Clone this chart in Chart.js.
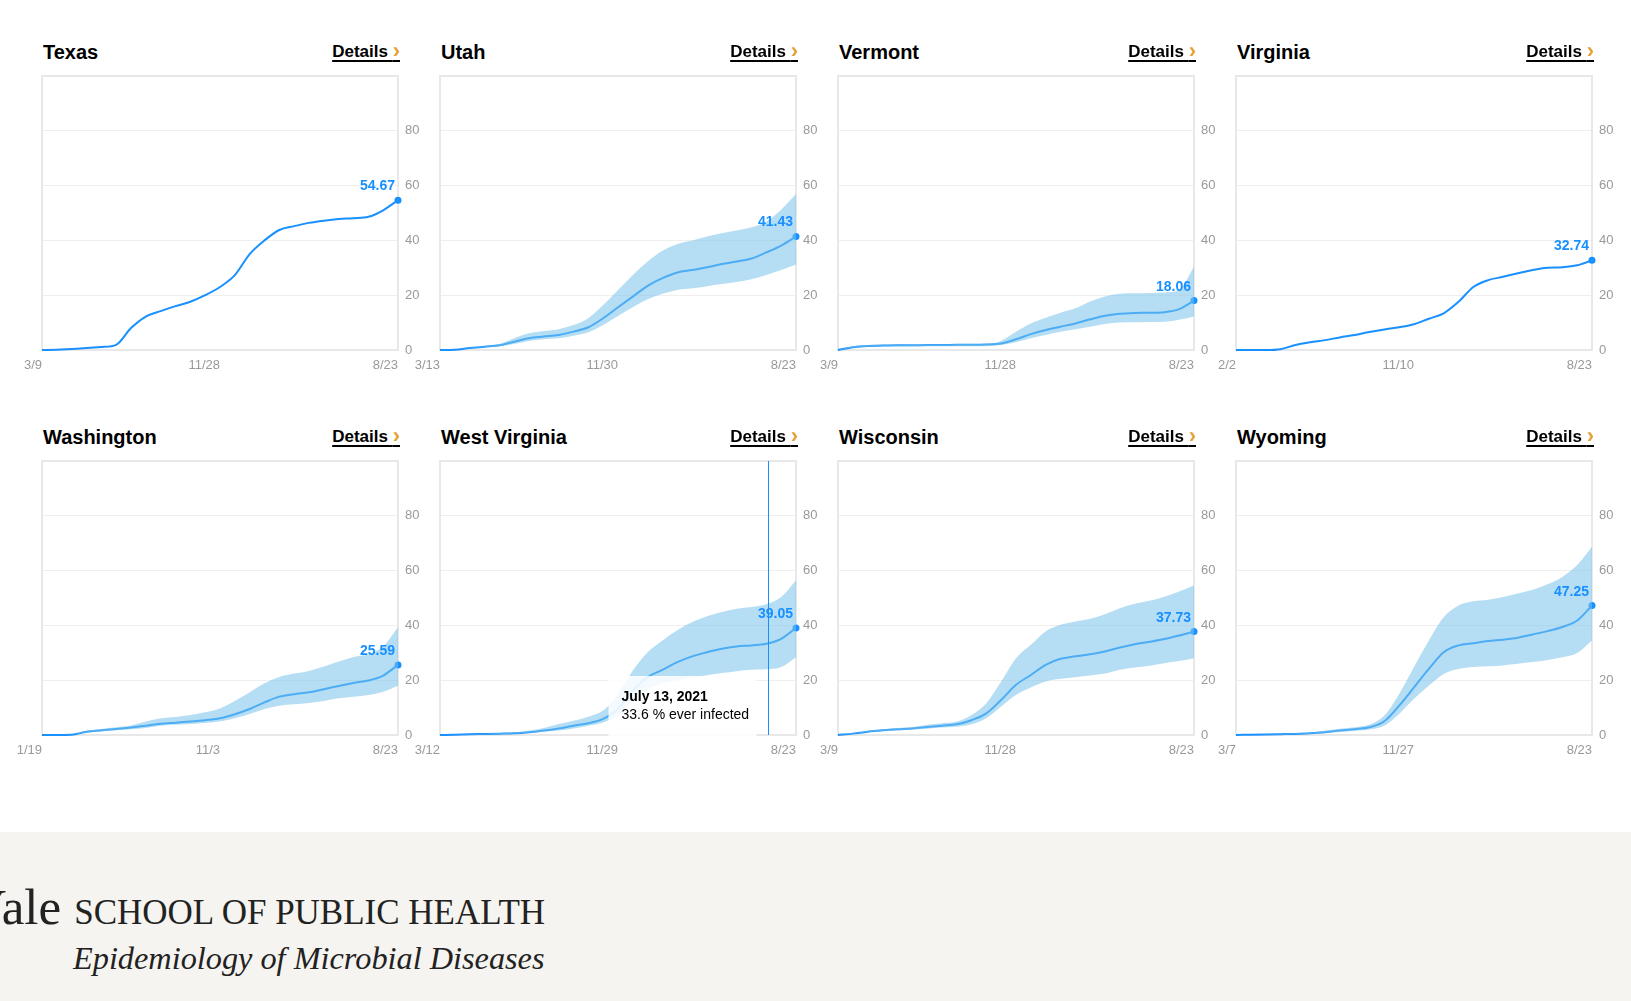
<!DOCTYPE html>
<html>
<head>
<meta charset="utf-8">
<script src="https://cdn.jsdelivr.net/npm/chart.js@4.4.0/dist/chart.umd.min.js"></script>
<style>
  body { margin: 0; width: 1631px; height: 1001px; overflow: hidden; background: #fff;
         font-family: "Liberation Sans", Arial, sans-serif; position: relative; }
  .title { position: absolute; font-weight: bold; font-size: 20px; color: #000; line-height: 1; }
  .details { position: absolute; font-weight: bold; font-size: 17px; color: #000; line-height: 1;
             text-decoration: underline; text-decoration-thickness: 2px; text-underline-offset: 3px;
             text-decoration-color: #000; white-space: nowrap; }
  .details span { color: #e3a232; font-size: 22px; line-height: 0; vertical-align: -1px; }
  canvas.panel { position: absolute; }
  .footer { position: absolute; left: 0; top: 832px; width: 1631px; height: 169px; background: #f5f4f0; }
  .yale { position: absolute; left: -30px; top: 0; font-family: "Liberation Serif", serif; color: #222;
          white-space: nowrap; }
  .yale .big { font-size: 51px; }
  .yale .school { font-size: 35px; margin-left: 13px; }
  .epi { position: absolute; left: 73px; font-family: "Liberation Serif", serif; font-style: italic;
         font-size: 32.3px; color: #222; white-space: nowrap; }
</style>
</head>
<body>
<div class="footer">
  <div class="yale" style="top:46px"><span class="big">Yale</span><span class="school">SCHOOL OF PUBLIC HEALTH</span></div>
  <div class="epi" style="top:108px">Epidemiology of Microbial Diseases</div>
</div>
<script>
const states = ['Texas', 'Utah', 'Vermont', 'Virginia', 'Washington', 'West Virginia', 'Wisconsin', 'Wyoming'];
const startLabels = ['3/9', '3/13', '3/9', '2/2', '1/19', '3/12', '3/9', '3/7'];
const midLabels = ['11/28', '11/30', '11/28', '11/10', '11/3', '11/29', '11/28', '11/27'];
const endLabel = '8/23';
const yTicks = [0, 20, 40, 60, 80];

// % ever infected, 25 evenly spaced samples from first date to 8/23
const texas = [0, 0.1, 0.4, 0.7, 1.1, 1.9, 8, 12.2, 14.2, 16, 17.6, 20, 23, 27.3, 35, 40, 43.8, 45.2, 46.4, 47.2, 47.8, 48.1, 48.6, 51, 54.67];
const utah = [0, 0.1, 0.7, 1.2, 1.7, 3, 4.3, 4.9, 5.5, 6.7, 8.3, 11.6, 15.6, 19.5, 23.4, 26.2, 28.3, 29.2, 30.2, 31.4, 32.3, 33.4, 35.6, 38.1, 41.43];
const utahUpper = [0, 0.1, 0.8, 1.4, 2.2, 4.3, 6.1, 6.9, 7.6, 9.1, 11.6, 16.4, 21.9, 27.4, 32.3, 36.2, 38.7, 40, 41.4, 42.6, 43.6, 44.8, 46.9, 51.2, 56.9];
const utahLower = [0, 0.1, 0.6, 1.0, 1.4, 2.2, 3.3, 3.9, 4.3, 5.2, 6.5, 9.1, 12.4, 15.6, 18.5, 20.5, 21.9, 22.5, 23.3, 24.1, 24.8, 25.8, 27.4, 29.2, 31.1];
const vermont = [0, 1.0, 1.5, 1.6, 1.7, 1.7, 1.8, 1.8, 1.9, 1.9, 2.0, 2.4, 3.9, 5.8, 7.3, 8.5, 9.7, 11.2, 12.5, 13.2, 13.5, 13.6, 13.8, 14.9, 18.06];
const vermontUpper = [0, 1.4, 1.8, 2.0, 2.0, 2.1, 2.1, 2.1, 2.2, 2.2, 2.2, 3.4, 6.7, 9.7, 11.8, 13.6, 15.2, 17.7, 19.5, 20.5, 20.7, 20.8, 21, 21.9, 30.5];
const vermontLower = [0, 0.8, 1.2, 1.4, 1.4, 1.4, 1.4, 1.4, 1.4, 1.4, 1.4, 1.8, 2.8, 4.3, 5.5, 6.7, 7.6, 8.5, 9.5, 10, 10.1, 10.2, 10.3, 11, 12.2];
const virginia = [0, 0, 0, 0.3, 1.8, 2.8, 3.6, 4.6, 5.5, 6.6, 7.5, 8.3, 9.4, 11.4, 13.4, 17.6, 23, 25.5, 26.7, 28, 29.2, 30, 30.2, 30.9, 32.74];
const washington = [0, 0, 0.1, 1.2, 1.7, 2.2, 2.7, 3.4, 4.1, 4.5, 4.9, 5.4, 6.1, 7.6, 9.5, 11.9, 14, 14.9, 15.6, 16.7, 17.9, 19, 19.9, 21.7, 25.59];
const washingtonUpper = [0, 0, 0.2, 1.5, 2.2, 2.8, 3.5, 4.9, 6.1, 6.6, 7.3, 8.3, 9.7, 12.4, 15.6, 18.9, 21.2, 22.4, 23.4, 25, 26.8, 28.5, 29.5, 32.3, 39.3];
const washingtonLower = [0, 0, 0.1, 0.9, 1.3, 1.7, 2.1, 2.6, 3.4, 3.7, 4, 4.4, 4.9, 6.1, 7.7, 9.5, 10.7, 11.2, 11.7, 12.4, 13.4, 14, 14.6, 15.8, 18];
const westVirginia = [0, 0.1, 0.3, 0.4, 0.5, 0.6, 1, 1.6, 2.4, 3.4, 4.3, 5.9, 9.5, 16.2, 21.1, 23.8, 26.6, 28.7, 30.2, 31.5, 32.3, 32.7, 33.3, 35.1, 39.05];
const westVirginiaUpper = [0, 0.1, 0.3, 0.5, 0.7, 0.9, 1.6, 2.6, 4, 5.2, 6.7, 8.9, 15, 23.5, 30.2, 34.5, 38.2, 41.2, 43.3, 44.9, 46.1, 46.7, 47.7, 50.4, 56.5];
const westVirginiaLower = [0, 0.1, 0.2, 0.3, 0.4, 0.5, 0.8, 1.2, 1.6, 2.4, 3.4, 4.6, 7.1, 13.2, 16.8, 18.7, 20.1, 21.1, 21.8, 22.6, 23.3, 23.8, 24, 24.8, 28.4];
const wisconsin = [0, 0.5, 1.2, 1.7, 2.1, 2.4, 2.9, 3.4, 3.9, 5.4, 7.9, 12.8, 18.3, 21.9, 25.6, 27.8, 28.7, 29.5, 30.5, 31.9, 33.1, 34, 35, 36.3, 37.73];
const wisconsinUpper = [0, 0.6, 1.5, 2.1, 2.6, 2.9, 3.7, 4.3, 4.9, 7.3, 11.6, 19.5, 28, 32.9, 37.8, 40.2, 41.4, 42.4, 44.1, 46.3, 47.9, 49, 50.5, 52.4, 54.6];
const wisconsinLower = [0, 0.4, 1.0, 1.4, 1.7, 2.0, 2.3, 2.7, 3, 3.9, 6.1, 10.4, 14.6, 17.3, 19.5, 20.5, 21.1, 21.7, 22.4, 23.8, 24.6, 25.3, 26.2, 27, 28];
const wyoming = [0, 0.1, 0.2, 0.3, 0.4, 0.6, 1, 1.6, 2.1, 2.8, 5, 10.7, 17.4, 24.1, 30.2, 32.7, 33.5, 34.3, 34.8, 35.5, 36.7, 37.9, 39.4, 41.8, 47.25];
const wyomingUpper = [0, 0.1, 0.3, 0.4, 0.6, 0.8, 1.6, 2.3, 2.8, 3.8, 7.1, 15, 24.8, 34.5, 43, 47.3, 48.8, 49.4, 50.4, 51.6, 53, 55, 57.7, 62, 68.7];
const wyomingLower = [0, 0.1, 0.2, 0.2, 0.3, 0.4, 0.7, 1.1, 1.5, 2.0, 3.4, 7.7, 13.2, 18, 22.3, 24.1, 24.8, 25.1, 25.4, 26, 26.6, 27.4, 28.4, 29.9, 34.5];

const means = [texas, utah, vermont, virginia, washington, westVirginia, wisconsin, wyoming];
const uppers = [null, utahUpper, vermontUpper, null, washingtonUpper, westVirginiaUpper, wisconsinUpper, wyomingUpper];
const lowers = [null, utahLower, vermontLower, null, washingtonLower, westVirginiaLower, wisconsinLower, wyomingLower];

// hover readout shown on West Virginia
const tipState = 'West Virginia';
const tipStart = '2020-03-12', tipEnd = '2021-08-23', tipDay = '2021-07-13';
const tipTitle = 'July 13, 2021';
const tipValue = 33.6;

const BLUE = '#1890ff';
const BAND = 'rgba(120,195,235,0.55)';
const PAD_L = 44, PAD_T = 22;

const framePlugin = {
  id: 'frame',
  beforeDatasetsDraw(chart) {
    const a = chart.chartArea, c = chart.ctx;
    c.save();
    c.strokeStyle = '#e8e8e8';
    c.lineWidth = 2;
    c.strokeRect(a.left, a.top, a.right - a.left, a.bottom - a.top);
    c.restore();
  }
};

const lastValuePlugin = {
  id: 'lastValue',
  afterDatasetsDraw(chart) {
    const idx = chart.data.datasets.length - 1;
    const meta = chart.getDatasetMeta(idx);
    const data = chart.data.datasets[idx].data;
    const pt = meta.data[data.length - 1];
    const c = chart.ctx;
    c.save();
    c.font = 'bold 14px "Liberation Sans", Arial, sans-serif';
    c.fillStyle = BLUE;
    c.textAlign = 'right';
    c.textBaseline = 'alphabetic';
    c.fillText(data[data.length - 1].toFixed(2), pt.x - 3, pt.y - 10);
    c.restore();
  }
};

const tipPlugin = {
  id: 'tip',
  afterDraw(chart) {
    if (!chart.options.plugins.tip || !chart.options.plugins.tip.show) return;
    const a = chart.chartArea, c = chart.ctx;
    const n = chart.data.labels.length - 1;
    const frac = (new Date(tipDay) - new Date(tipStart)) / (new Date(tipEnd) - new Date(tipStart));
    const x = Math.round(chart.scales.x.getPixelForValue(frac * n)) + 0.5;
    c.save();
    c.strokeStyle = BLUE;
    c.lineWidth = 1;
    c.beginPath();
    c.moveTo(x, a.top);
    c.lineTo(x, a.bottom);
    c.stroke();
    const bw = 148, bh = 60;
    const bx = x - 160, by = a.bottom - bh + 1;
    c.fillStyle = 'rgba(255,255,255,0.85)';
    c.fillRect(bx, by, bw, bh);
    c.fillStyle = '#000';
    c.textAlign = 'left';
    c.font = 'bold 14px "Liberation Sans", Arial, sans-serif';
    c.fillText(tipTitle, bx + 13, by + 25);
    c.font = '14px "Liberation Sans", Arial, sans-serif';
    c.fillText(tipValue.toFixed(1) + ' % ever infected', bx + 13, by + 43);
    c.restore();
  }
};

states.forEach((name, i) => {
  const col = i % 4, row = Math.floor(i / 4);
  const plotLeft = 42 + col * 398, plotTop = 76 + row * 385;

  const title = document.createElement('div');
  title.className = 'title';
  title.textContent = name;
  title.style.left = (plotLeft + 1) + 'px';
  title.style.top = (plotTop - 34) + 'px';
  document.body.appendChild(title);

  const det = document.createElement('div');
  det.className = 'details';
  det.innerHTML = 'Details <span>›</span>';
  det.style.right = (1631 - plotLeft - 358) + 'px';
  det.style.top = (plotTop - 33) + 'px';
  document.body.appendChild(det);

  const cv = document.createElement('canvas');
  cv.className = 'panel';
  const w = PAD_L + 356 + 40, h = PAD_T + 274 + 30;
  cv.width = w; cv.height = h;
  cv.style.left = (plotLeft - PAD_L) + 'px';
  cv.style.top = (plotTop - PAD_T) + 'px';
  cv.style.width = w + 'px'; cv.style.height = h + 'px';
  document.body.appendChild(cv);

  const mean = means[i];
  const n = mean.length - 1;
  const labels = mean.map((_, k) => k);
  const datasets = [];
  if (uppers[i]) {
    datasets.push({ data: lowers[i], borderWidth: 0, pointRadius: 0, fill: false, cubicInterpolationMode: 'monotone' });
    datasets.push({ data: uppers[i], borderWidth: 0, pointRadius: 0, fill: '-1', backgroundColor: BAND, cubicInterpolationMode: 'monotone' });
  }
  datasets.push({
    data: mean, borderColor: BLUE, borderWidth: 2, fill: false, clip: false,
    cubicInterpolationMode: 'monotone',
    pointRadius: ctx => ctx.dataIndex === n ? 3.5 : 0,
    pointBackgroundColor: BLUE, pointBorderWidth: 0
  });

  const xTickText = { 0: startLabels[i], [n / 2]: midLabels[i], [n]: endLabel };

  new Chart(cv, {
    type: 'line',
    data: { labels, datasets },
    options: {
      responsive: false,
      animation: false,
      events: [],
      layout: { padding: { left: PAD_L, top: PAD_T, right: 0, bottom: 0 } },
      plugins: { legend: { display: false }, tooltip: { enabled: false }, tip: { show: name === tipState } },
      scales: {
        x: {
          type: 'linear', min: 0, max: n,
          grid: { display: false }, border: { display: false },
          afterBuildTicks: s => { s.ticks = [0, n / 2, n].map(v => ({ value: v })); },
          afterFit: s => { s.height = 30; },
          ticks: {
            autoSkip: false, maxRotation: 0, align: 'end', padding: 0,
            color: '#999', font: { family: '"Liberation Sans", Arial, sans-serif', size: 13 },
            callback: v => xTickText[v]
          }
        },
        y: {
          position: 'right', min: 0, max: 100,
          grid: { color: '#efefef', drawTicks: false }, border: { display: false },
          afterBuildTicks: s => { s.ticks = yTicks.concat([100]).map(v => ({ value: v })); },
          afterFit: s => { s.width = 40; },
          ticks: {
            padding: 7, color: '#999', font: { family: '"Liberation Sans", Arial, sans-serif', size: 13 },
            callback: v => (yTicks.includes(v) ? String(v) : '')
          }
        }
      }
    },
    plugins: [framePlugin, lastValuePlugin, tipPlugin]
  });
});
</script>
</body>
</html>
